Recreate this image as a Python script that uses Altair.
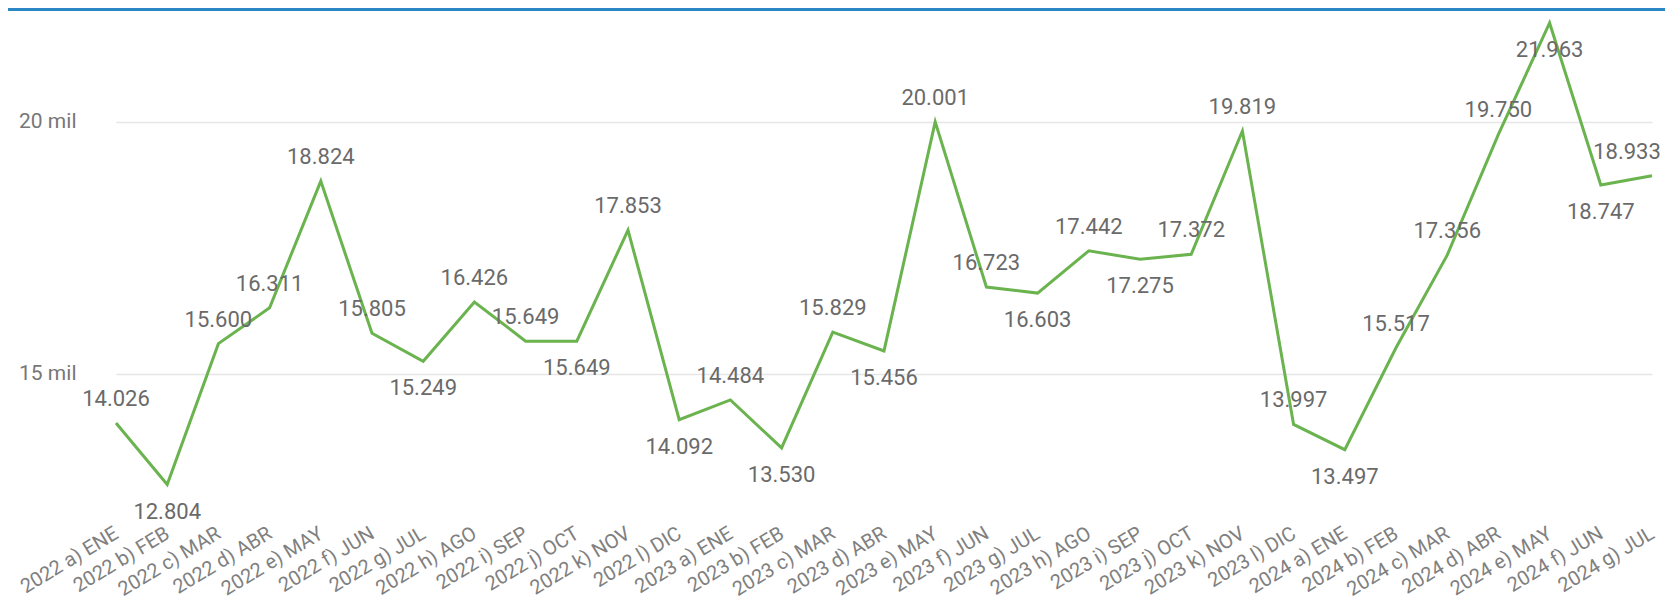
import altair as alt
import pandas as pd

months = [
    "2022 a) ENE", "2022 b) FEB", "2022 c) MAR", "2022 d) ABR", "2022 e) MAY", "2022 f) JUN",
    "2022 g) JUL", "2022 h) AGO", "2022 i) SEP", "2022 j) OCT", "2022 k) NOV", "2022 l) DIC",
    "2023 a) ENE", "2023 b) FEB", "2023 c) MAR", "2023 d) ABR", "2023 e) MAY", "2023 f) JUN",
    "2023 g) JUL", "2023 h) AGO", "2023 i) SEP", "2023 j) OCT", "2023 k) NOV", "2023 l) DIC",
    "2024 a) ENE", "2024 b) FEB", "2024 c) MAR", "2024 d) ABR", "2024 e) MAY", "2024 f) JUN",
    "2024 g) JUL",
]
values = [
    14026, 12804, 15600, 16311, 18824, 15805, 15249, 16426, 15649, 15649, 17853, 14092,
    14484, 13530, 15829, 15456, 20001, 16723, 16603, 17442, 17275, 17372, 19819, 13997,
    13497, 15517, 17356, 19750, 21963, 18747, 18933,
]
# data-label side: A = above the point, B = below
label_side = [
    "A", "B", "A", "A", "A", "A", "B", "A", "A", "B", "A", "B",
    "A", "B", "A", "B", "A", "A", "B", "A", "B", "A", "A", "A",
    "B", "A", "A", "A", "B", "B", "A",
]
y_ticks = [15000, 20000]

df = pd.DataFrame({"mes": months, "valor": values, "lado": label_side})
df["idx"] = range(len(df))
last_idx = len(df) - 1

FONT = "Roboto"
W, H = 1565, 503

x_enc = alt.X(
    "mes:N",
    sort=months,
    scale=alt.Scale(type="point", range=[21, 1557], padding=0),
    axis=alt.Axis(
        title=None, domain=False, ticks=False, grid=False,
        labelAngle=-31, labelAlign="right", labelBaseline="top",
        labelPadding=8, labelOffset=-5, labelFontSize=20, labelColor="#808080",
        labelFont=FONT, labelOverlap=False, labelLimit=0,
    ),
)
y_enc = alt.Y(
    "valor:Q",
    scale=alt.Scale(domain=[12200, 22180], nice=False, zero=False),
    axis=alt.Axis(
        title=None, values=y_ticks, labelExpr="datum.value / 1000 + ' mil'",
        grid=True, gridColor="#e6e6e6", gridWidth=1.5,
        domain=False, ticks=False, labelPadding=19,
        labelFontSize=21, labelColor="#777777", labelFont=FONT,
    ),
)

base = alt.Chart(df).transform_calculate(
    etiqueta="replace(format(datum.valor, ','), ',', '.')"
)

line = base.mark_line(color="#6ab34f", strokeWidth=3).encode(x=x_enc, y=y_enc)

txt_style = dict(fontSize=22, color="#6a6a6a", font=FONT, baseline="middle", align="center")

above = base.transform_filter(
    f"datum.lado == 'A' && datum.idx != {last_idx}"
).mark_text(dy=-24, **txt_style).encode(x=x_enc, y=y_enc, text="etiqueta:N")

below = base.transform_filter("datum.lado == 'B'").mark_text(dy=27, **txt_style).encode(
    x=x_enc, y=y_enc, text="etiqueta:N"
)

edge = base.transform_filter(f"datum.idx == {last_idx}").mark_text(
    dy=-24, dx=-25, **txt_style
).encode(x=x_enc, y=y_enc, text="etiqueta:N")

top_bar = alt.Chart(pd.DataFrame({"k": [0]})).mark_rule(
    color="#2b86c5", strokeWidth=3
).encode(x=alt.value(-87), x2=alt.value(W + 5), y=alt.value(-2.5))

chart = alt.layer(line, above, below, edge, top_bar).properties(
    width=W,
    height=H,
    padding={"left": 87, "top": 4, "right": 5, "bottom": 92},
    autosize=alt.AutoSizeParams(type="none"),
).configure_view(strokeWidth=0)

chart.save("out.html", embed_options={"renderer": "svg", "actions": False})
